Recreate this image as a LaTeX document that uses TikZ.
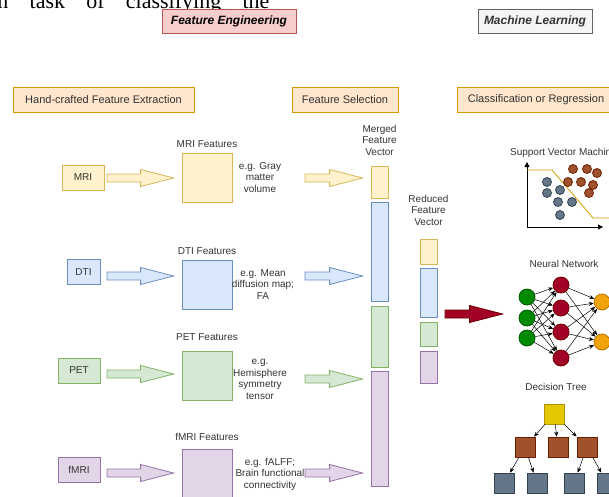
\documentclass[tikz,border=0pt]{standalone}
\usepackage{fontspec}
\setmainfont{Liberation Serif}
\setsansfont{Liberation Sans}
\usepackage{tikz}
\usetikzlibrary{calc, arrows.meta, positioning}

\definecolor{yF}{HTML}{FFF2CC}   \definecolor{yD}{HTML}{D6B656}
\definecolor{bF}{HTML}{DAE8FC}   \definecolor{bD}{HTML}{6C8EBF}
\definecolor{gF}{HTML}{D5E8D4}   \definecolor{gD}{HTML}{82B366}
\definecolor{pF}{HTML}{E1D5E7}   \definecolor{pD}{HTML}{9673A6}
\definecolor{hdrF}{HTML}{FFE6CC} \definecolor{hdrD}{HTML}{D79B00}
\definecolor{peF}{HTML}{F8CECC}  \definecolor{peD}{HTML}{B85450}
\definecolor{mlF}{HTML}{F5F5F5}  \definecolor{mlD}{HTML}{666666}
\definecolor{txt}{HTML}{333333}
\definecolor{redF}{HTML}{A20025} \definecolor{redD}{HTML}{6F0000}
\definecolor{nnG}{HTML}{008A00}  \definecolor{nnGD}{HTML}{005700}
\definecolor{nnO}{HTML}{F0A30A}  \definecolor{nnOD}{HTML}{BD7000}
\definecolor{brn}{HTML}{A0522D}  \definecolor{brnD}{HTML}{6D1F00}
\definecolor{slt}{HTML}{647687}  \definecolor{sltD}{HTML}{314354}
\definecolor{gold}{HTML}{E3C800} \definecolor{goldD}{HTML}{B09500}

\begin{document}
\begin{tikzpicture}[x=1pt, y=-1pt, line width=0.8pt, text=txt,
                    font=\sffamily\fontsize{10}{11.5}\selectfont]
        \useasboundingbox (0,0) rectangle (609,496);
        \clip (0,0) rectangle (609,496);

        \tikzstyle{hdr}     = [draw=hdrD, fill=hdrF, minimum height=25pt, inner sep=0pt, font=\sffamily\fontsize{11}{13}\selectfont]
        \tikzstyle{inbox}   = [draw, minimum height=25pt, inner sep=0pt]
        \tikzstyle{featbox} = [draw, minimum width=50pt, minimum height=49pt, inner sep=0pt]
        \tikzstyle{seg}     = [draw, minimum width=17pt, inner sep=0pt]
        \tikzstyle{lbl}     = [align=center, inner sep=0pt]
        \tikzstyle{fat}     = [to path={let \p1=(\tikztostart), \p2=(\tikztotarget) in
                                (\x1,\y1+4pt) -- (\x2-33pt,\y1+4pt) -- (\x2-33pt,\y1+8.5pt) -- (\x2,\y1)
                                -- (\x2-33pt,\y1-8.5pt) -- (\x2-33pt,\y1-4pt) -- (\x1,\y1-4pt) -- cycle}]
        \tikzstyle{dot}     = [circle, draw, inner sep=0pt, minimum size=9pt]
        \tikzstyle{neuron}  = [circle, draw, inner sep=0pt, minimum size=16pt]
        \tikzstyle{leaf}    = [draw, inner sep=0pt, minimum size=20pt]
        \tikzstyle{link}    = [-{Stealth[length=5pt, width=4pt]}, black, line width=0.5pt]

        % Text fragment above the figure.
        \node[anchor=base west, inner sep=0pt, text=black, font=\rmfamily\fontsize{22}{22}\selectfont]
            (frag) at (-3,8) {\makebox[272pt][s]{n task of classifying the}};

        % Titles and stage headers.
        \node[draw=peD, fill=peF, minimum width=134pt, minimum height=24pt, inner sep=0pt,
              text=black, font=\sffamily\fontsize{12}{14}\selectfont\bfseries\itshape] (fe) at (229,21) {Feature Engineering};
        \node[draw=mlD, fill=mlF, minimum width=114pt, minimum height=24pt, inner sep=0pt,
              font=\sffamily\fontsize{12}{14}\selectfont\bfseries\itshape] (ml) at (535,21) {Machine Learning};
        \node[hdr, minimum width=181pt] (hfe) at (103.5,100) {Hand-crafted Feature Extraction};
        \node[hdr, minimum width=106pt] (fs)  at (345,100)   {Feature Selection};
        \node[hdr, minimum width=158pt] (cr)  at (536,100)   {Classification or Regression};

        % Merged and reduced feature vectors.
        \node[lbl] (mvl) at (379.5,140) {Merged\\Feature\\Vector};
        \node[lbl] (rvl) at (428.5,210) {Reduced\\Feature\\Vector};
        \foreach \n/\col/\my/\mh/\ry/\rh in {
                  MRI/y/182/32/251.5/25,
                  DTI/b/251.5/99/292.5/49,
                  PET/g/336.5/61/334/24,
                 fMRI/p/428.5/115/367/32} {
            \node[seg, fill=\col F, draw=\col D, minimum height=\mh pt] (mv\n) at (379.5,\my) {};
            \node[seg, fill=\col F, draw=\col D, minimum height=\rh pt] (rv\n) at (428.5,\ry) {};
        }

        % One row per modality.
        \foreach \n/\col/\ix/\iw/\iy/\ay/\fy/\ly/\tx/\ty/\by/\txt in {
                  MRI/y/83/42/177.5/178/177.5/144/260/177.5/178/{e.g. Gray\\matter\\volume},
                  DTI/b/83.5/33/272/276/284.5/251/263/284.5/276/{e.g. Mean\\diffusion map;\\FA},
                  PET/g/79/42/370.5/374/375.5/337/260/379.5/379/{e.g.\\Hemisphere\\symmetry\\tensor},
                 fMRI/p/79/42/469.5/473/474/437/270/474/473/{e.g. fALFF;\\Brain functional\\connectivity}} {
            \node[inbox, fill=\col F, draw=\col D, minimum width=\iw pt] (in\n) at (\ix,\iy) {\n};
            \node[featbox, fill=\col F, draw=\col D] (ft\n) at (207,\fy) {};
            \node[lbl] (ftl\n) at (207,\ly) {\n{} Features};
            \node[lbl] (eg\n) at (\tx,\ty) {\txt};
            \coordinate (a1\n) at (107,\ay);
            \coordinate (a2\n) at (305,\by);
            \draw[fat, fill=\col F, draw=\col D] (a1\n) to ([xshift=-8pt]ft\n.west);
            \draw[fat, fill=\col F, draw=\col D] (a2\n) to ([xshift=-8pt]mv\n.west);
        }

        % Support vector machine.
        \node[lbl] (svm) at (563.5,153) {Support Vector Machine};
        \coordinate (org) at (527,227);
        \coordinate (yax) at (527,162);
        \coordinate (xax) at (603,227);
        \draw[-{Triangle[length=5pt, width=5pt]}, black] (org) -- (yax);
        \draw[-{Triangle[length=5pt, width=5pt]}, black] (org) -- (xax);
        \draw[hdrD] (527,170) -- (552,170) -- (593,218) -- (612,218);
        \foreach \x/\y in {547/182, 547/193, 560/190, 558/202, 572/202, 560/215}
            \node[dot, fill=slt, draw=sltD] at (\x,\y) {};
        \foreach \x/\y in {573/169, 587/169, 597/173, 568/182, 581/182, 593/185, 589/193}
            \node[dot, fill=brn, draw=brnD] at (\x,\y) {};

        % Neural network.
        \node[lbl] (nnl) at (564,264) {Neural Network};
        \foreach \i/\y in {1/297, 2/318, 3/338}
            \node[neuron, fill=nnG, draw=nnGD] (g\i) at (527,\y) {};
        \foreach \i/\y in {1/285, 2/308, 3/332, 4/358}
            \node[neuron, fill=redF, draw=redD] (r\i) at (561,\y) {};
        \foreach \i/\y in {1/302, 2/342}
            \node[neuron, fill=nnO, draw=nnOD] (o\i) at (602,\y) {};
        \foreach \i in {1,2,3}
            \foreach \j in {1,...,4}
                \draw[link] (g\i) -- (r\j);
        \foreach \i in {1,...,4}
            \foreach \j in {1,2}
                \draw[link] (r\i) -- (o\j);

        % Big arrow into the classifiers.
        \coordinate (ra) at (445,314);
        \draw[fat, fill=redF, draw=redD] (ra) to ([xshift=-16pt]g2.west);

        % Decision tree.
        \node[lbl] (dtl) at (556,387) {Decision Tree};
        \node[leaf, fill=gold, draw=goldD] (t0) at (554,414) {};
        \foreach \i/\x in {1/525, 2/558, 3/587}
            \node[leaf, fill=brn, draw=brnD] (b\i) at (\x,447) {};
        \foreach \i/\x in {1/504, 2/537, 3/574, 4/607}
            \node[leaf, fill=slt, draw=sltD] (s\i) at (\x,483) {};
        \foreach \a/\b in {t0/b1, t0/b2, t0/b3, b1/s1, b1/s2, b3/s3, b3/s4}
            \draw[link] (\a) -- (\b);
    \end{tikzpicture}
\end{document}
